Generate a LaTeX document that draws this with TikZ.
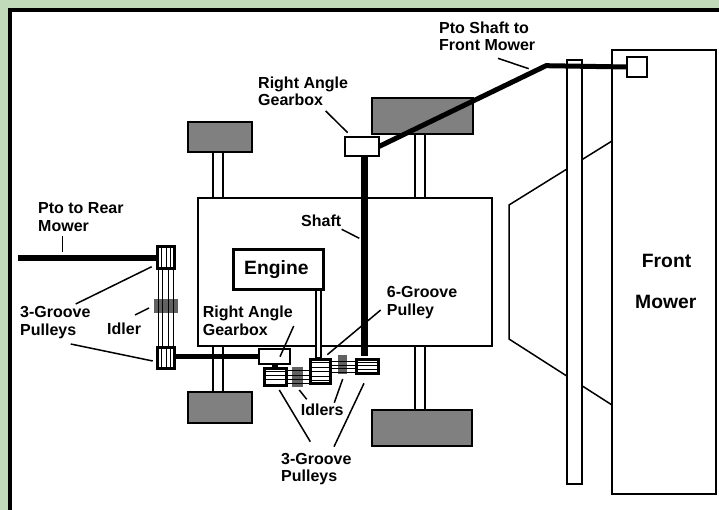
\documentclass[tikz,border=0pt]{standalone}
\usepackage{fontspec}
\setmainfont{Liberation Sans}
\definecolor{bggreen}{HTML}{C1DBBA}
\definecolor{wheelgray}{HTML}{808080}
\newcommand{\bx}[6]{\node[#6,inner sep=0pt,outer sep=0pt,minimum width={(#4-#2)*1pt},minimum height={(#5-#3)*1pt}] (#1) at ({(#2+#4)/2},{(#3+#5)/2}) {};}
\newcommand{\leaderline}[5]{\coordinate (#1a) at (#2,#3); \coordinate (#1b) at (#4,#5); \draw[leader] (#1a) -- (#1b);}
\tikzset{
 lbl/.style={font=\fontsize{16}{17.7}\selectfont\bfseries,align=left,inner sep=0pt,anchor=base west,text=black},
 biglbl/.style={lbl,font=\fontsize{19.3}{22}\selectfont\bfseries},
 leader/.style={draw=black,line width=1.5pt},
 thinbox/.style={draw=black,line width=1.5pt,fill=white},
 wheel/.style={draw=black,line width=2pt,fill=wheelgray},
 shaft/.style={draw=black,line width=6pt},
 pulley/.style={draw=black,line width=3pt,fill=white},
 belt/.style={draw=black,line width=1pt},
 idler/.style={fill=black,fill opacity=.62,draw=none}
}
\begin{document}
\begin{tikzpicture}[x=1pt,y=-1pt]
\useasboundingbox (0,0) rectangle (719,510);
\fill[bggreen] (0,0) rectangle (719,510);
\fill[white] (8,8) rectangle (719,510);
\draw[black,line width=4pt] (9.5,510) -- (9.5,10) -- (719,10);
% axles
\bx{axTL}{213}{152}{223}{198}{thinbox}
\bx{axBL}{213}{346}{223}{392}{thinbox}
\bx{axTR}{415}{134}{425}{198}{thinbox}
\bx{axBR}{415}{346}{425}{410}{thinbox}
% wheels
\bx{wTL}{188}{122}{252}{152}{wheel}
\bx{wBL}{188}{392}{252}{423}{wheel}
\bx{wTR}{372}{98}{473}{134}{wheel}
\bx{wBR}{372}{410}{472}{446}{wheel}
% body
\bx{body}{198}{198}{492}{346}{thinbox}
% mower deck
\draw[thinbox,fill=none] (612,141) -- (509,205) -- (509,339) -- (612,405);
\bx{bar}{567}{60}{582}{484}{thinbox}
\bx{front}{612}{50}{716}{494}{thinbox,line width=2pt}
% engine
\bx{engshaft}{316}{290}{321}{358}{thinbox}
\bx{engine}{233}{250}{323}{289}{draw=black,line width=3pt,fill=white}
% top gearbox and end box
\bx{gbtop}{345}{137}{379}{156}{thinbox}
\bx{endbox}{627}{57}{647}{77}{thinbox}
\coordinate (bend) at (546,65.7);
\draw[shaft,line width=5pt] (gbtop.east) -- (bend) -- (endbox.west);
% rear pulleys
\bx{rpT}{157.5}{247}{174.5}{268.5}{pulley}
\bx{rpB}{157.5}{347.5}{174.5}{368.5}{pulley}
\foreach \x in {158,162.5,168,173}{\draw[belt] (\x,269) -- (\x,347);}
\foreach \x in {161.5,166,170.5}{
  \draw[belt] (\x,248) -- (\x,267);
  \draw[belt] (\x,349) -- (\x,367);}
\bx{idlerR}{154}{299}{178}{313}{idler}
% lower gearbox
\bx{gblow}{259}{349}{290}{364}{thinbox}
\coordinate (rearend) at (18,258);
\draw[shaft] (rearend) -- (rpT.west |- rearend);
\draw[shaft,line width=5pt] (rpB.east |- gblow.west) -- (gblow.west);
% centre pulleys
\bx{pL}{264}{368}{286}{385.5}{pulley}
\bx{pM}{310}{359}{330.5}{383.5}{pulley}
\bx{pR}{356}{359}{378.5}{373.5}{pulley}
\draw[draw=black,line width=6pt] (pL.north |- gblow.south) -- (pL.north);
\foreach \y in {371,375,379.3}{\draw[belt] (265,\y) -- (285,\y);}
\foreach \y in {362.7,367.3,371.7,376,380}{\draw[belt] (311,\y) -- (329,\y);}
\foreach \y in {362,365.7,369.3}{\draw[belt] (357,\y) -- (377,\y);}
\foreach \y in {370.6,375,379.3,383}{\draw[belt] (287,\y) -- (309,\y);}
\foreach \y in {361,365,368.5,372}{\draw[belt] (331,\y) -- (355,\y);}
\bx{idlerL}{292}{367}{303}{387}{idler}
\bx{idlerM}{338}{355}{347}{374}{idler}
% vertical shaft
\coordinate (vtop) at (364.5,156.5);
\coordinate (vbot) at (364.5,356);
\draw[shaft,line width=7pt] (vtop) -- (vbot);
% leaders
\leaderline{a}{62.7}{235.7}{62.7}{251.7}
\leaderline{b}{75.7}{304}{151.7}{266.7}
\leaderline{c}{135}{315}{149}{308}
\leaderline{d}{70.7}{344}{152.7}{361}
\leaderline{e}{325.7}{111}{347.7}{132.7}
\leaderline{f}{341.7}{229.3}{359.3}{238.3}
\leaderline{g}{498}{58.3}{528.7}{68.7}
\leaderline{h}{293.7}{326}{280}{356.7}
\leaderline{i}{380.7}{310}{327.3}{354.7}
\leaderline{j}{299.3}{390}{306.7}{399.3}
\leaderline{k}{342.7}{379}{334.3}{402.7}
\leaderline{l}{279.3}{390}{310.3}{441.7}
\leaderline{m}{364}{383.3}{334}{446.7}
% labels
\node[lbl] (t1) at (38,231.7) {Pto to Rear\\Mower};
\node[lbl] (t2) at (20,335) {3-Groove\\Pulleys};
\node[lbl] (t3) at (107,334) {Idler};
\node[lbl] (t4) at (202.7,335) {Right Angle\\Gearbox};
\node[lbl] (t5) at (300.7,415.7) {Idlers};
\node[lbl] (t6) at (281,481.7) {3-Groove\\Pulleys};
\node[lbl] (t7) at (258,106) {Right Angle\\Gearbox};
\node[lbl] (t8) at (301,226.7) {Shaft};
\node[lbl] (t9) at (386.7,315) {6-Groove\\Pulley};
\node[lbl] (t10) at (439,51) {Pto Shaft to\\Front Mower};
\node[biglbl] (t11) at (244,275) {Engine};
\node[biglbl] (t12) at (641.7,267.7) {Front};
\node[biglbl] (t13) at (635,308) {Mower};
\end{tikzpicture}
\end{document}
